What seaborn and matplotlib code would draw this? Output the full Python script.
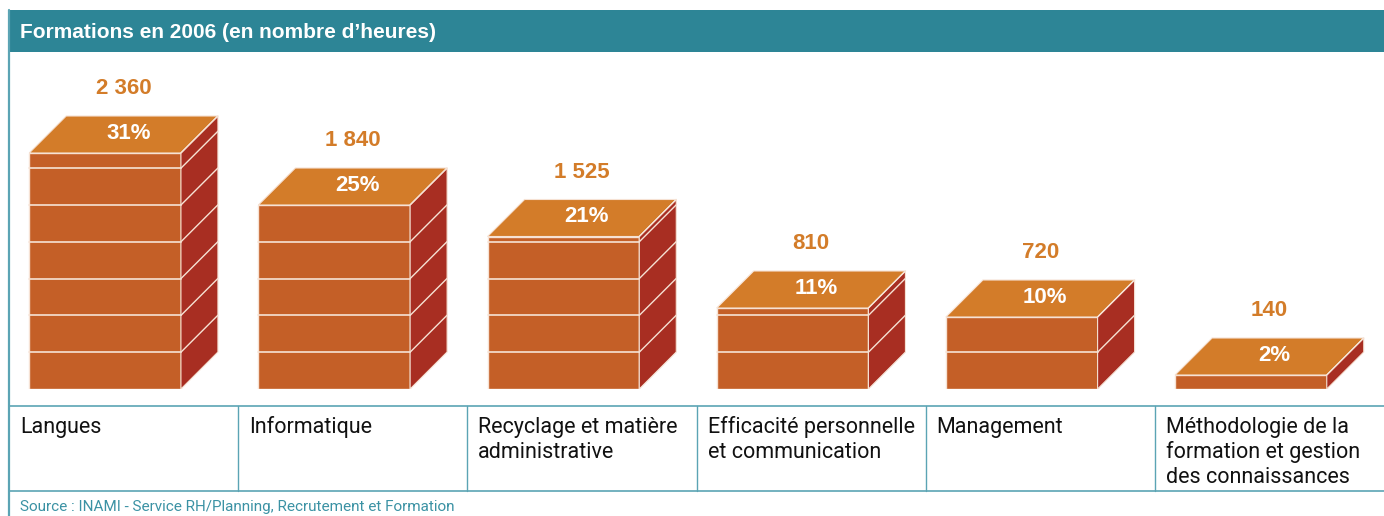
import matplotlib.pyplot as plt
import seaborn as sns
from matplotlib.patches import Polygon, Rectangle


CATEGORIES = ["Langues", "Informatique", "Recyclage", "Efficacité", "Management", "Méthodologie"]
HOURS = [2360, 1840, 1525, 810, 720, 140]
VALUE_LABELS = ["2 360", "1 840", "1 525", "810", "720", "140"]
SHARES = ["31%", "25%", "21%", "11%", "10%", "2%"]
CELL_LABELS = [
    "Langues",
    "Informatique",
    "Recyclage et matière\nadministrative",
    "Efficacité personnelle\net communication",
    "Management",
    "Méthodologie de la\nformation et gestion\ndes connaissances",
]
TITLE = "Formations en 2006 (en nombre d\u2019heures)"
SOURCE = "Source : INAMI - Service RH/Planning, Recrutement et Formation"

TEAL = "#2d8596"
TEAL_LINE = "#5ba4b4"
TOP = "#d37c29"
FRONT = "#c45f27"
SIDE = "#a82e22"
EDGE = "#f6e2d4"

W, H = 1384, 516
LEFT = 9
COL_W = (W - LEFT) / 6
BASE_Y = 389
HEADER_Y0, HEADER_Y1 = 10, 52
PX_PER_HOUR = 0.1
BRICK = 368           # hours per brick
DEPTH_PX = 37
BAR_WIDTH = 151.7 / COL_W

NARROW = ["Roboto", "DejaVu Sans"]
BOLD = ["Liberation Sans", "DejaVu Sans"]


def draw_bars(fig):
    ax = fig.add_axes([LEFT / W, (H - BASE_Y) / H, (W - LEFT) / W, (BASE_Y - HEADER_Y1) / H])
    dx = DEPTH_PX / COL_W
    dy = DEPTH_PX / PX_PER_HOUR

    sns.barplot(x=CATEGORIES, y=HOURS, color=FRONT, saturation=1, width=BAR_WIDTH,
                edgecolor=EDGE, linewidth=1.0, ax=ax, zorder=2)
    ax.set_xlim(-0.5 + dx / 2, 5.5 + dx / 2)
    ax.set_ylim(0, (BASE_Y - HEADER_Y1) / PX_PER_HOUR)
    ax.axis("off")

    for patch, value_txt, share in zip(ax.patches, VALUE_LABELS, SHARES):
        x0, w, h = patch.get_x(), patch.get_width(), patch.get_height()
        x1 = x0 + w
        top = [(x0, h), (x0 + dx, h + dy), (x1 + dx, h + dy), (x1, h)]
        side = [(x1, 0), (x1 + dx, dy), (x1 + dx, h + dy), (x1, h)]
        ax.add_patch(Polygon(top, closed=True, facecolor=TOP, edgecolor=EDGE, lw=0.8, zorder=3))
        ax.add_patch(Polygon(side, closed=True, facecolor=SIDE, edgecolor=EDGE, lw=0.8, zorder=3))

        # brick joints on the front and the side face
        level = BRICK
        while level < h - 1:
            ax.plot([x0, x1], [level, level], color=EDGE, lw=1.2, zorder=4)
            ax.plot([x1, x1 + dx], [level, level + dy], color=EDGE, lw=1.0, zorder=4)
            level += BRICK
        ax.plot([x1, x1 + dx], [h, h + dy], color=EDGE, lw=1.0, zorder=4)

        cx = x0 + w / 2 + dx / 2
        ax.annotate(value_txt, xy=(cx, h + dy), xytext=(0, 19.5), textcoords="offset points",
                    ha="center", va="center", fontsize=16, fontweight="bold",
                    color=TOP, family=BOLD)
        ax.annotate(share, xy=(cx, h + dy / 2), xytext=(3.5, 1.0), textcoords="offset points",
                    ha="center", va="center", fontsize=16, fontweight="bold",
                    color="white", family=BOLD, zorder=5)
    return ax


def draw_frame(fig):
    ov = fig.add_axes([0, 0, 1, 1], zorder=-1)
    ov.set_xlim(0, W)
    ov.set_ylim(H, 0)
    ov.axis("off")

    ov.add_patch(Rectangle((LEFT, HEADER_Y0), W - LEFT, HEADER_Y1 - HEADER_Y0,
                           facecolor=TEAL, edgecolor="none"))
    ov.text(20, 37.5, TITLE, ha="left", va="baseline", color="white",
            fontsize=15, fontweight="bold", family=BOLD)

    ov.plot([LEFT, LEFT], [HEADER_Y0, H], color=TEAL_LINE, lw=1.6)
    ov.plot([LEFT, W], [406, 406], color=TEAL_LINE, lw=1.2)
    ov.plot([LEFT, W], [490.5, 490.5], color=TEAL_LINE, lw=1.2)
    for i, label in enumerate(CELL_LABELS):
        x = LEFT + i * COL_W
        if i > 0:
            ov.plot([x, x], [406, 490.5], color=TEAL_LINE, lw=1.0)
        for k, line in enumerate(label.split("\n")):
            ov.text(x + 11, 433 + 25 * k, line, ha="left", va="baseline", fontsize=15.5,
                    color="#111111", family=NARROW)

    ov.text(20, 511, SOURCE, ha="left", va="baseline", fontsize=11,
            color="#3b92a4", family=NARROW)


def main():
    sns.set_theme(style="white")
    fig = plt.figure(figsize=(W / 100, H / 100), dpi=100)
    fig.patch.set_facecolor("white")
    draw_frame(fig)
    draw_bars(fig)
    fig.savefig("out.png", dpi=100)


if __name__ == "__main__":
    main()
